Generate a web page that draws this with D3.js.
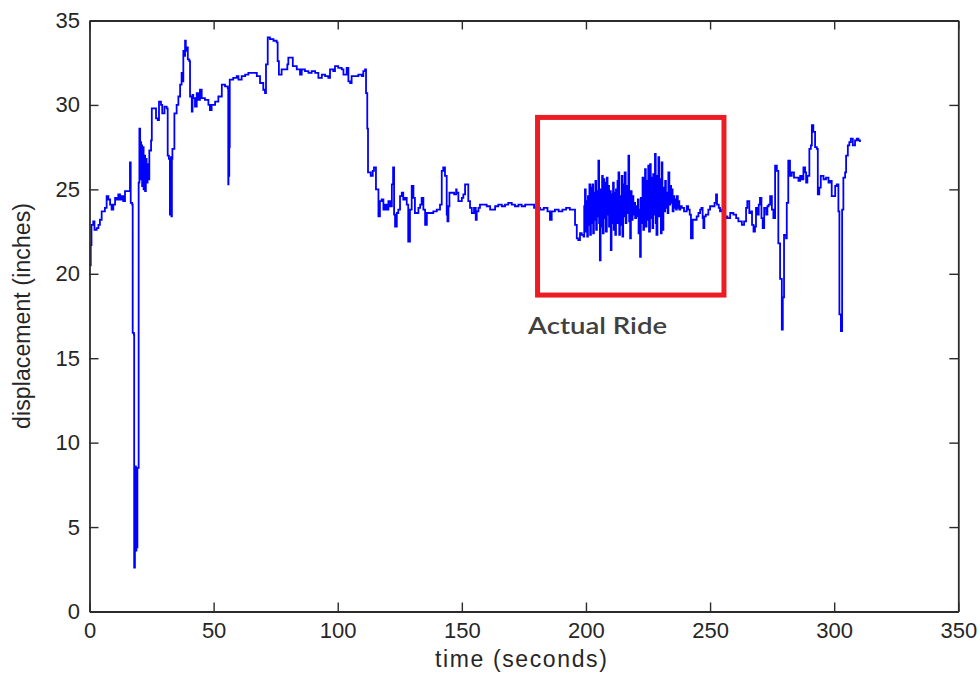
<!DOCTYPE html>
<html>
<head>
<meta charset="utf-8">
<script src="https://cdn.jsdelivr.net/npm/d3@7"></script>
<style>
  html, body { margin: 0; padding: 0; background: #fff; }
  svg { display: block; }
</style>
</head>
<body>
<svg id="chart" width="980" height="673"></svg>
<script>
// ---------- data ----------
const xTicks = [0, 50, 100, 150, 200, 250, 300, 350];
const yTicks = [0, 5, 10, 15, 20, 25, 30, 35];
const xLabel = "time (seconds)";
const yLabel = "displacement (inches)";
const annotationText = "Actual Ride";
// annotation box in data units: [t start, t end, low, high]
const rideBox = [180.5, 255.6, 18.74, 29.26];
const annotationAnchor = [204.7, 16.45];

// start-up, big drop and climb (0 - 112 s)
const traceStart = [
  [0.0,20.5],[0.5,21.7],[0.8,22.9],[1.5,23.1],[2.0,22.6],[2.9,22.7],[3.6,22.9],[4.2,23.2],[4.9,23.7],
  [6.2,23.9],[6.9,24.6],[7.6,24.4],[8.3,24.1],[8.9,23.8],[9.6,24.1],[10.3,24.5],[10.9,24.4],[11.6,24.7],
  [12.3,24.4],[13.0,24.6],[13.6,24.3],[14.3,24.9],[15.6,24.9],[16.3,26.6],[16.6,24.2],[17.2,24.1],
  [17.4,16.5],[17.9,16.4],[18.0,2.6],[18.3,3.6],[18.5,8.6],[18.7,3.6],[18.9,8.5],[19.1,3.8],[19.3,8.5],
  [19.7,8.5],[19.8,25.4],[20.1,28.6],[20.4,27.2],[20.6,27.8],[20.8,25.6],[21.0,27.6],[21.2,25.2],
  [21.5,27.5],[21.8,25.0],[22.1,27.0],[22.4,24.9],[22.7,26.8],[23.0,25.4],[23.4,26.5],[23.7,25.6],
  [24.1,27.3],[24.8,27.9],[25.1,29.8],[26.4,29.8],[26.8,29.2],[27.5,29.1],[28.0,30.2],[28.8,30.0],
  [29.3,29.5],[30.2,29.9],[31.1,29.8],[31.5,27.0],[32.0,26.8],[32.4,23.5],[32.8,26.9],[33.0,23.4],
  [33.2,26.8],[33.4,27.4],[34.2,29.5],[35.1,30.0],[35.8,30.5],[36.5,31.2],[37.1,31.9],[37.4,31.4],
  [37.8,33.2],[38.2,32.9],[38.5,33.8],[38.8,33.2],[39.2,33.4],[39.6,32.7],[40.2,32.6],[40.5,30.5],
  [41.2,29.6],[41.5,30.6],[41.8,30.4],[42.5,29.9],[43.2,30.7],[43.8,30.3],[44.5,30.9],[45.2,30.4],
  [46.5,30.3],[47.9,30.0],[48.5,29.7],[49.2,30.0],[50.6,30.2],[51.9,30.5],[53.3,31.2],[54.6,31.1],
  [55.7,31.0],[55.9,25.3],[56.0,27.2],[56.2,25.8],[56.3,27.5],[56.5,31.5],[57.9,31.6],[59.3,31.7],
  [60.0,31.5],[61.3,31.7],[62.7,31.8],[64.0,31.9],[66.0,31.9],[67.4,31.7],[68.7,31.3],[70.0,30.9],
  [70.7,30.7],[71.1,32.4],[71.8,34.0],[72.7,33.9],[74.1,33.8],[75.4,33.7],[75.8,32.6],[76.3,31.8],
  [77.4,32.1],[78.8,32.1],[79.7,32.4],[80.1,32.8],[81.5,32.8],[81.9,32.3],[83.5,32.1],[84.8,31.8],
  [85.5,32.1],[86.8,32.0],[88.2,31.9],[89.5,32.0],[90.9,31.9],[92.2,31.6],[93.6,31.8],[94.9,31.7],
  [96.2,31.6],[96.9,32.1],[98.2,32.0],[98.9,32.3],[100.2,32.2],[101.6,32.1],[102.3,31.8],[103.6,32.2],
  [104.3,31.4],[105.0,31.3],[105.6,31.7],[107.0,31.7],[108.3,31.8],[109.7,31.7],[110.3,32.0],
  [111.0,32.1],[111.4,30.7],[111.9,28.6]
];

// settled level before the ride (112 - 199 s)
const traceMiddle = [
  [112.2,26.0],[112.7,26.0],[113.3,25.8],[114.1,26.1],[114.6,26.3],[115.4,25.0],[116.1,25.0],
  [116.4,23.4],[117.0,24.3],[117.7,24.4],[118.4,23.8],[119.1,24.1],[119.7,23.8],[120.4,24.3],
  [121.1,24.0],[121.8,25.3],[122.3,26.3],[122.7,23.5],[123.1,22.8],[123.8,23.6],[124.4,23.8],
  [125.1,24.6],[125.8,24.8],[126.4,24.4],[127.1,24.5],[127.8,24.1],[128.4,21.9],[129.1,23.8],
  [129.8,25.2],[130.5,24.5],[131.1,23.6],[131.8,23.6],[132.5,23.9],[133.2,24.1],[133.8,24.5],
  [134.5,23.8],[135.2,22.9],[135.9,23.6],[137.2,23.6],[138.5,23.7],[139.9,23.8],[141.2,24.1],
  [141.9,26.1],[142.5,26.3],[143.2,25.8],[143.9,23.5],[144.2,23.1],[144.6,24.0],[145.0,24.8],
  [145.9,24.8],[146.9,24.7],[147.7,25.0],[147.9,24.8],[148.6,24.3],[150.0,24.5],[150.6,24.7],
  [151.3,25.3],[152.0,25.3],[152.6,24.3],[153.3,23.9],[154.0,23.6],[154.9,23.9],[155.6,23.2],
  [156.0,23.7],[156.7,23.9],[157.3,24.1],[158.7,24.1],[160.0,24.0],[161.4,23.8],[162.7,23.8],
  [163.4,24.0],[164.7,24.1],[166.1,24.0],[167.4,24.1],[168.7,24.2],[170.1,24.1],[171.4,24.0],
  [172.8,24.1],[174.1,24.0],[175.5,24.1],[176.8,24.1],[178.2,24.1],[179.1,23.9],[180.2,23.9],
  [181.5,23.8],[183.0,23.9],[184.5,23.7],[185.5,23.2],[186.2,23.7],[187.5,23.8],[189.0,23.7],
  [190.5,23.8],[192.0,23.9],[193.5,23.8],[194.9,23.8],[195.6,22.9],[196.3,22.1],[196.9,22.0],
  [197.6,22.4],[198.3,22.3]
];

// the actual ride (199 - 238 s)
const traceRide = [
  [199.0,22.2],[199.3,24.0],[199.6,25.0],[199.9,22.5],[200.2,24.3],[200.5,22.2],[200.8,24.6],
  [201.1,22.9],[201.4,25.3],[201.7,22.3],[202.0,25.1],[202.3,23.0],[202.6,25.3],[202.9,22.4],
  [203.2,24.8],[203.5,23.2],[203.8,25.5],[204.1,22.6],[204.4,24.9],[204.7,23.4],[205.0,26.7],
  [205.3,23.0],[205.6,20.8],[205.9,25.0],[206.2,22.8],[206.5,25.8],[206.8,22.4],[207.1,25.6],
  [207.4,23.3],[207.7,25.4],[208.0,22.5],[208.4,25.7],[208.7,23.5],[209.0,25.2],[209.3,22.8],
  [209.6,24.9],[210.0,21.4],[210.3,24.7],[210.6,23.0],[210.9,25.4],[211.2,22.6],[211.5,24.8],
  [211.8,22.3],[212.1,25.0],[212.4,23.0],[212.7,25.5],[213.1,26.0],[213.4,22.3],[213.7,24.6],
  [214.0,22.9],[214.4,25.8],[214.7,22.2],[215.0,25.3],[215.3,23.4],[215.6,26.0],[216.0,23.0],
  [216.3,25.2],[216.7,23.6],[217.1,27.0],[217.4,23.1],[217.8,22.1],[218.1,24.9],[218.4,23.2],
  [218.8,24.6],[219.1,23.5],[219.5,24.2],[219.8,23.3],[220.2,24.0],[220.5,23.4],[220.9,24.4],
  [221.2,22.4],[221.5,23.8],[221.8,21.0],[222.1,24.5],[222.4,23.0],[222.8,25.7],[223.1,22.6],
  [223.4,25.2],[223.8,26.2],[224.1,22.8],[224.4,25.5],[224.8,23.2],[225.1,26.4],[225.4,22.5],
  [225.8,26.5],[226.1,23.3],[226.4,25.7],[226.8,22.7],[227.1,25.9],[227.5,23.5],[227.8,27.1],
  [228.1,23.0],[228.4,22.3],[228.8,25.8],[229.2,26.9],[229.5,23.4],[229.8,25.6],[230.2,22.4],
  [230.5,26.6],[230.8,22.6],[231.2,25.1],[231.5,23.7],[231.9,25.5],[232.2,23.9],[232.6,24.8],
  [232.9,23.6],[233.2,26.0],[233.6,24.1],[233.9,25.2],[234.3,24.2],[234.6,25.0],[234.9,23.7],
  [235.3,24.6],[235.6,23.9],[235.9,24.4],[236.3,23.8],[236.6,24.6],[237.0,23.9],[237.2,24.3],
  [237.6,23.8],[238.0,24.0]
];

// after the ride (238 - 311 s)
const traceEnd = [
  [238.6,23.9],[239.5,23.7],[240.6,24.0],[241.2,23.8],[241.8,23.5],[242.3,22.1],[242.6,22.1],
  [243.0,23.2],[243.6,23.2],[244.6,23.4],[245.3,23.6],[246.0,23.8],[246.5,23.9],[247.0,23.3],
  [247.3,22.7],[247.7,23.4],[248.3,23.5],[249.3,23.8],[250.0,24.0],[251.3,24.0],[251.8,24.2],
  [252.4,24.7],[252.8,24.1],[253.5,23.9],[254.0,23.7],[254.5,23.8],[255.5,23.3],[256.3,23.4],
  [257.0,23.3],[258.1,23.6],[259.4,23.5],[260.5,23.3],[261.4,23.1],[262.8,22.9],[263.7,23.1],
  [264.5,23.9],[265.0,24.3],[265.8,23.6],[266.4,23.7],[266.9,22.9],[267.5,22.5],[268.1,22.8],
  [268.5,23.9],[269.1,23.5],[269.6,24.1],[270.1,24.5],[270.7,23.3],[271.2,22.7],[271.8,23.9],
  [272.6,23.5],[273.1,24.0],[273.6,24.1],[274.2,24.6],[274.9,23.8],[275.5,23.3],[276.2,26.4],
  [276.9,26.1],[277.5,21.8],[278.2,19.7],[278.9,16.7],[279.3,18.6],[279.8,22.3],[280.6,22.1],
  [280.9,24.2],[281.5,26.7],[282.2,25.8],[282.9,26.0],[283.8,25.7],[284.9,25.7],[285.6,25.5],
  [286.3,25.8],[286.9,25.6],[287.6,26.3],[288.3,26.0],[288.7,25.4],[289.2,25.8],[290.0,27.4],
  [290.6,27.6],[291.0,28.8],[291.6,28.4],[292.3,27.5],[293.0,27.4],[293.4,24.7],[294.0,25.1],
  [294.6,25.8],[295.7,25.6],[296.7,25.7],[297.7,25.4],[298.4,25.5],[299.0,24.6],[299.7,24.6],
  [300.4,25.2],[301.0,25.3],[301.7,23.7],[302.1,17.6],[302.7,16.6],[303.2,23.8],[303.7,25.7],
  [304.4,26.0],[304.8,27.0],[305.5,27.6],[306.1,27.8],[306.7,28.0],[307.5,27.6],[308.4,27.9],
  [309.1,28.0],[309.8,27.9],[310.4,27.8]
];

const trace = traceStart.concat(traceMiddle, traceRide, traceEnd);

// ---------- drawing ----------
const svg = d3.select("#chart");
const plotLeft = 89.5, plotRight = 958.3, plotTop = 20.5, plotBottom = 611.5;

const x = d3.scaleLinear().domain([xTicks[0], xTicks[xTicks.length - 1]]).range([plotLeft, plotRight]);
const y = d3.scaleLinear().domain([yTicks[0], yTicks[yTicks.length - 1]]).range([plotBottom, plotTop]);

const axisColor = "#2b2b2b";
const tickFont = "'Liberation Sans', Arial, sans-serif";

// data line
const line = d3.line()
  .x(d => x(d[0]))
  .y(d => y(d[1]))
  .curve(d3.curveStepAfter);

svg.append("path")
  .datum(trace)
  .attr("fill", "none")
  .attr("stroke", "#0000ff")
  .attr("stroke-width", 1.8)
  .attr("stroke-linejoin", "miter")
  .attr("d", line);

// axes (MATLAB style box with inward ticks on all sides)
function styleAxis(g) {
  g.select(".domain").attr("stroke", axisColor).attr("stroke-width", 1.8);
  g.selectAll(".tick line").attr("stroke", axisColor).attr("stroke-width", 1.4);
  g.selectAll(".tick text")
    .attr("fill", "#262626")
    .style("font-family", tickFont)
    .style("font-size", "22px");
}

svg.append("g")
  .attr("transform", `translate(0,${plotBottom})`)
  .call(d3.axisBottom(x).tickValues(xTicks).tickSizeInner(-9).tickSizeOuter(0).tickPadding(10.5))
  .call(styleAxis);

svg.append("g")
  .attr("transform", `translate(0,${plotTop})`)
  .call(d3.axisTop(x).tickValues(xTicks).tickSizeInner(-9).tickSizeOuter(0).tickFormat(""))
  .call(styleAxis);

svg.append("g")
  .attr("transform", `translate(${plotLeft},0)`)
  .call(d3.axisLeft(y).tickValues(yTicks).tickSizeInner(-9).tickSizeOuter(0).tickPadding(9.5))
  .call(styleAxis);

svg.append("g")
  .attr("transform", `translate(${plotRight},0)`)
  .call(d3.axisRight(y).tickValues(yTicks).tickSizeInner(-9).tickSizeOuter(0).tickFormat(""))
  .call(styleAxis);

// axis labels
svg.append("text")
  .attr("x", (plotLeft + plotRight) / 2 - 3)
  .attr("y", 667)
  .attr("text-anchor", "middle")
  .attr("fill", "#262626")
  .attr("textLength", 172)
  .attr("lengthAdjust", "spacing")
  .style("font-family", tickFont)
  .style("font-size", "23px")
  .text(xLabel);

svg.append("text")
  .attr("transform", `translate(30,${(plotTop + plotBottom) / 2}) rotate(-90)`)
  .attr("text-anchor", "middle")
  .attr("fill", "#262626")
  .attr("textLength", 226)
  .attr("lengthAdjust", "spacing")
  .style("font-family", tickFont)
  .style("font-size", "23px")
  .text(yLabel);

// annotation box
svg.append("rect")
  .attr("x", x(rideBox[0]))
  .attr("y", y(rideBox[3]))
  .attr("width", x(rideBox[1]) - x(rideBox[0]))
  .attr("height", y(rideBox[2]) - y(rideBox[3]))
  .attr("fill", "none")
  .attr("stroke", "#ed1c24")
  .attr("stroke-width", 5);

svg.append("text")
  .attr("x", x(annotationAnchor[0]))
  .attr("y", y(annotationAnchor[1]))
  .attr("text-anchor", "middle")
  .attr("fill", "#404040")
  .attr("textLength", 139)
  .attr("lengthAdjust", "spacingAndGlyphs")
  .style("font-family", "Lato, 'Open Sans', sans-serif")
  .style("font-weight", "600")
  .style("font-size", "22px")
  .text(annotationText);
</script>
</body>
</html>
